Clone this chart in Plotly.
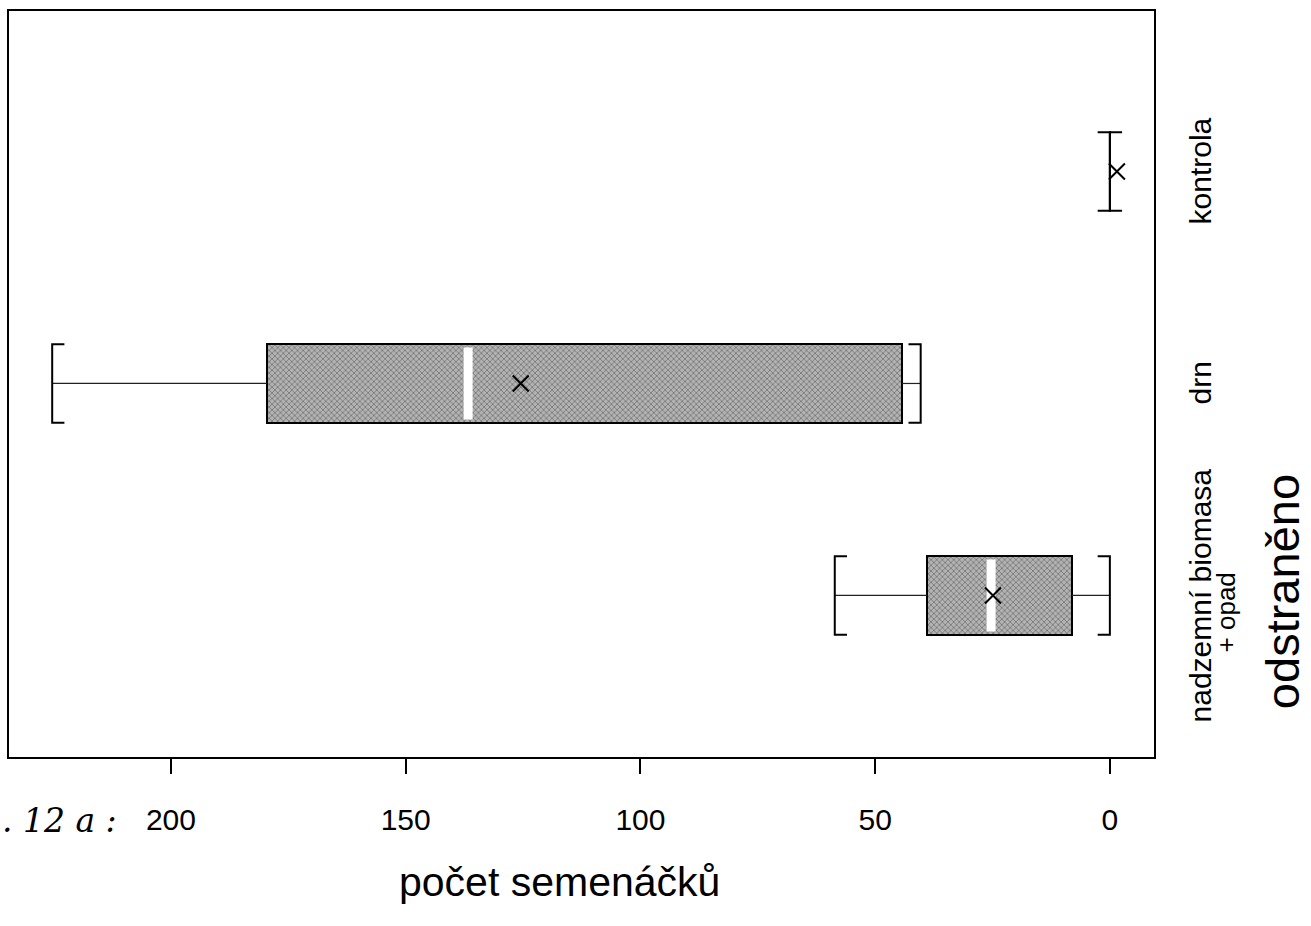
import plotly.graph_objects as go

# ---- data ----
categories = ["nadzemní biomasa", "drn", "kontrola"]
sublabels = ["+ opad", "", ""]
positions = [0, 1, 2]
minimum = [0.0, 40.3, 0.0]
q1 = [8.1, 44.3, 0.0]
median = [25.3, 136.7, 0.0]
q3 = [39.0, 179.6, 0.0]
maximum = [58.6, 225.3, 0.0]
mean = [24.9, 125.5, -1.5]
x_ticks = [200, 150, 100, 50, 0]
x_title = "počet semenáčků"
y_title = "odstraněno"
fig_label = ". 12 a :"

# ---- style ----
FONT = "Liberation Sans, Arial, sans-serif"
BOX_H = 0.37      # box thickness (category units)
CAP_H = 0.185     # half height of bracket
SERIF = 2.6       # serif length (value units)
MED_H = 0.17
PW = 1145.0       # plot width in px

fig = go.Figure()

# boxes (only where q1 != q3)
box_idx = [i for i in range(len(categories)) if q3[i] != q1[i]]
fig.add_trace(go.Bar(
    orientation="h",
    y=[positions[i] for i in box_idx],
    x=[q3[i] - q1[i] for i in box_idx],
    base=[q1[i] for i in box_idx],
    width=BOX_H,
    marker=dict(
        color="#b3b3b3",
        line=dict(color="black", width=2),
        pattern=dict(shape="x", fgcolor="#303030", size=4, solidity=0.35, fillmode="overlay"),
    ),
    showlegend=False,
    hoverinfo="skip",
))

# whiskers
wx, wy = [], []
for i, p in enumerate(positions):
    wx += [maximum[i], q3[i], None, q1[i], minimum[i], None]
    wy += [p, p, None, p, p, None]
fig.add_trace(go.Scatter(x=wx, y=wy, mode="lines",
                         line=dict(color="#222", width=1.2),
                         showlegend=False, hoverinfo="skip"))

# brackets
bx, by = [], []
for i, p in enumerate(positions):
    hi, lo = maximum[i], minimum[i]
    bx += [hi - SERIF, hi, hi, hi - SERIF, None, lo + SERIF, lo, lo, lo + SERIF, None]
    by += [p + CAP_H, p + CAP_H, p - CAP_H, p - CAP_H, None,
           p + CAP_H, p + CAP_H, p - CAP_H, p - CAP_H, None]
fig.add_trace(go.Scatter(x=bx, y=by, mode="lines",
                         line=dict(color="black", width=2),
                         showlegend=False, hoverinfo="skip"))

# medians (white band)
mx, my = [], []
for i in box_idx:
    p = positions[i]
    mx += [median[i], median[i], None]
    my += [p - MED_H, p + MED_H, None]
fig.add_trace(go.Scatter(x=mx, y=my, mode="lines",
                         line=dict(color="white", width=9),
                         showlegend=False, hoverinfo="skip"))

# means
fig.add_trace(go.Scatter(x=mean, y=positions, mode="markers",
                         marker=dict(symbol="x-thin", size=16,
                                     line=dict(color="black", width=2)),
                         showlegend=False, hoverinfo="skip"))

# category labels on the right (rotated)
annotations = []
for i, p in enumerate(positions):
    annotations.append(dict(
        text=categories[i], x=(1200 - 9) / PW, xref="paper", y=p, yref="y",
        textangle=-90, showarrow=False, xanchor="center", yanchor="middle",
        font=dict(family=FONT, size=30, color="black")))
    if sublabels[i]:
        annotations.append(dict(
            text=sublabels[i], x=(1226 - 9) / PW, xref="paper", y=p - 0.08, yref="y",
            textangle=-90, showarrow=False, xanchor="center", yanchor="middle",
            font=dict(family=FONT, size=26, color="black")))

annotations.append(dict(
    text=y_title, x=(1282 - 9) / PW, xref="paper", y=0.221, yref="paper",
    textangle=-90, showarrow=False, xanchor="center", yanchor="middle",
    font=dict(family=FONT, size=47, color="black")))
annotations.append(dict(
    text=x_title, x=0.481, xref="paper", y=-0.168, yref="paper",
    showarrow=False, xanchor="center", yanchor="middle",
    font=dict(family=FONT, size=41, color="black")))
annotations.append(dict(
    text="<i>" + fig_label + "</i>", x=-9 / PW, xref="paper", y=-0.085, yref="paper",
    showarrow=False, xanchor="left", yanchor="middle",
    font=dict(family="DejaVu Serif, serif", size=33, color="black")))

fig.update_layout(
    width=1311, height=926,
    margin=dict(l=9, r=157, t=11, b=169),
    paper_bgcolor="white", plot_bgcolor="white",
    font=dict(family=FONT, size=30, color="black"),
    xaxis=dict(
        range=[234.5, -9.4],
        tickmode="array", tickvals=x_ticks, ticktext=[str(v) for v in x_ticks],
        ticks="outside", ticklen=15, tickwidth=2, tickcolor="black",
        showline=True, linecolor="black", linewidth=2, mirror=True,
        showgrid=False, zeroline=False,
        ticklabelstandoff=20,
        tickfont=dict(family=FONT, size=30, color="black"),
    ),
    yaxis=dict(
        range=[-0.762, 2.757],
        showticklabels=False, ticks="",
        showline=True, linecolor="black", linewidth=2, mirror=True,
        showgrid=False, zeroline=False,
    ),
    annotations=annotations,
    bargap=0,
)

fig.write_html("out.html")
